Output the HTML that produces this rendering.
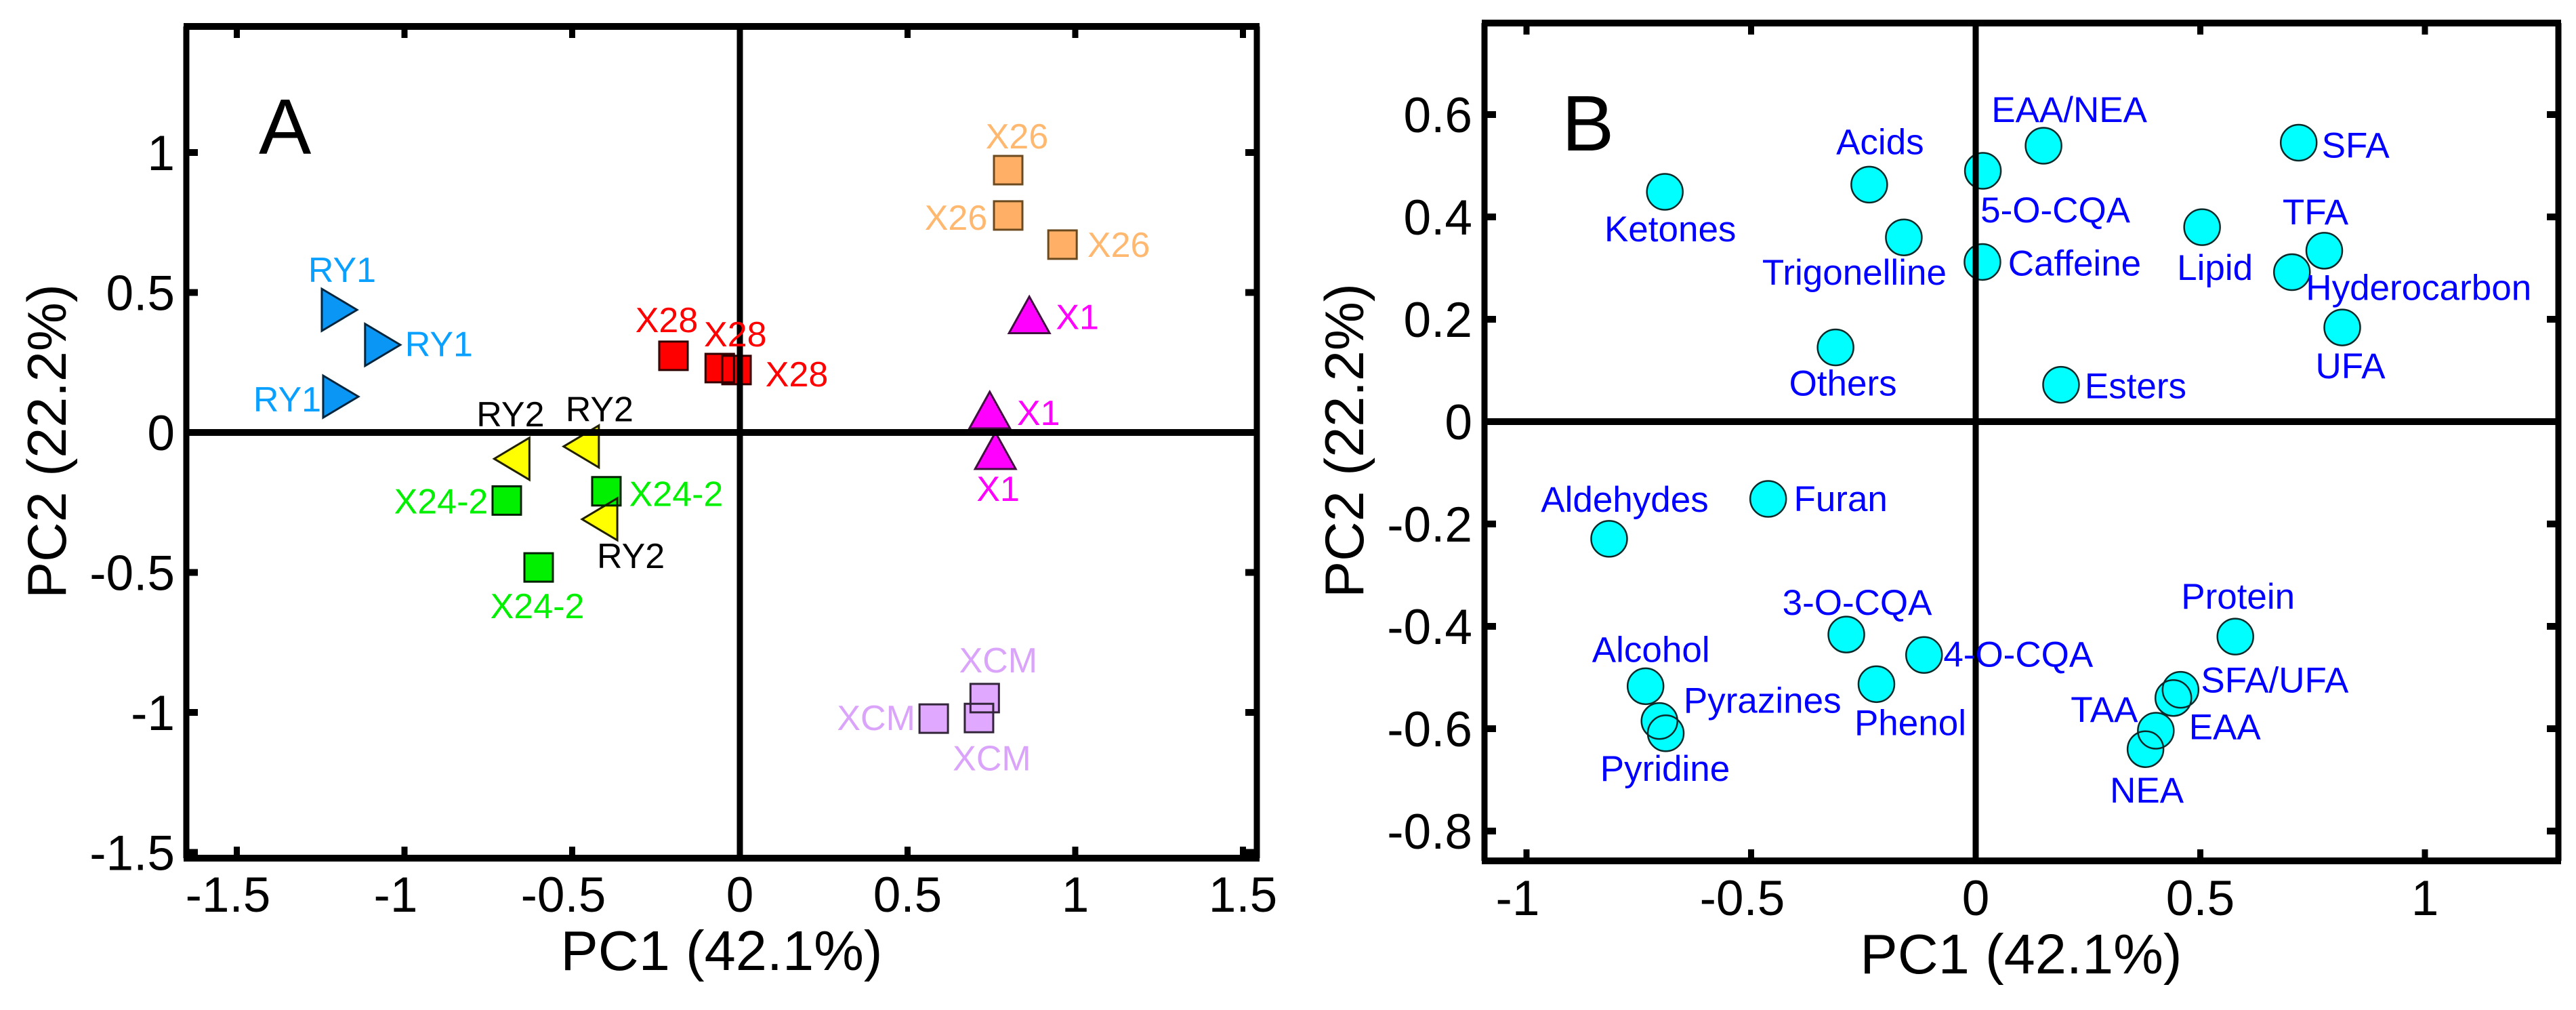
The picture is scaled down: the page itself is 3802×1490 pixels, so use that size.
<!DOCTYPE html>
<html lang="en">
<head>
<meta charset="utf-8">
<title>PCA score and loading plots</title>
<style>
html,body{margin:0;padding:0;background:#fff;width:3802px;height:1490px;overflow:hidden}
svg{display:block;font-family:"Liberation Sans",Arial,sans-serif}
</style>
</head>
<body>
<svg id="chart" xmlns="http://www.w3.org/2000/svg" width="3802" height="1490" viewBox="0 0 3802 1490"></svg>
<script>
// ---------- Panel A data (scores) ----------
const labelsA = ["X26","X26","X26","X28","X28","X28","X1","X1","X1","RY1","RY1","RY1","RY2","RY2","RY2","X24-2","X24-2","X24-2","XCM","XCM","XCM"];
const pc1A = [0.80,0.80,0.962,-0.198,-0.06,-0.01,0.863,0.745,0.762,-1.194,-1.065,-1.19,-0.68,-0.473,-0.418,-0.695,-0.398,-0.6,0.73,0.578,0.713];
const pc2A = [0.937,0.775,0.671,0.274,0.23,0.223,0.42,0.08,-0.065,0.438,0.313,0.128,-0.094,-0.05,-0.31,-0.243,-0.21,-0.482,-0.949,-1.022,-1.02];
const xTicksA = [-1.5,-1,-0.5,0,0.5,1,1.5];
const yTicksA = [-1.5,-1,-0.5,0,0.5,1];

// ---------- Panel B data (loadings) ----------
const labelsB = ["Ketones","Acids","5-O-CQA","EAA/NEA","SFA","Trigonelline","Lipid","TFA","Hyderocarbon","Caffeine","UFA","Others","Esters","Furan","Aldehydes","3-O-CQA","4-O-CQA","Phenol","Alcohol","Pyrazines","Pyridine","Protein","SFA/UFA","EAA","TAA","NEA"];
const pc1B = [-0.692,-0.237,0.016,0.151,0.719,-0.16,0.504,0.776,0.704,0.015,0.816,-0.312,0.19,-0.462,-0.816,-0.288,-0.115,-0.221,-0.735,-0.704,-0.69,0.578,0.456,0.44,0.401,0.378];
const pc2B = [0.449,0.463,0.49,0.539,0.545,0.36,0.38,0.334,0.292,0.312,0.184,0.145,0.072,-0.151,-0.229,-0.416,-0.456,-0.513,-0.517,-0.585,-0.609,-0.42,-0.524,-0.54,-0.604,-0.64];
const xTicksB = [-1,-0.5,0,0.5,1];
const yTicksB = [-0.8,-0.6,-0.4,-0.2,0,0.2,0.4,0.6];

// ---------- Label placement, relative to each point (layout, not data) ----------
const labelNudgeA = [[13,-51],[-77,2],[83,-1],[-10,-54],[23,-51],[89,5],[71,2],[72,3],[4,55],[4,-60],[83,-2],[-79,3],[-2,-67],[27,-56],[46,53],[-97,0],[103,3],[-2,56],[20,-57],[-85,-2],[19,58]];
const labelNudgeB = [[8,54],[16,-64],[107,57],[38,-54],[84,3],[-73,51],[19,59],[-13,-58],[187,22],[136,1],[12,56],[11,52],[110,1],[107,-1],[23,-59],[16,-48],[139,-2],[50,56],[8,-55],[152,-31],[-1,51],[4,-60],[139,-15],[76,42],[-76,-32],[2,60]];

// ---------- Group styling ----------
const groupStyle = {
  "X26":   {shape:"square", fill:"#ffb066", text:"#ffb870", stroke:"#6b4a20"},
  "X28":   {shape:"square", fill:"#ff0000", text:"#ff0000", stroke:"#300000"},
  "X1":    {shape:"up",     fill:"#ff00ff", text:"#ff00ff", stroke:"#401040"},
  "RY1":   {shape:"right",  fill:"#0a96f5", text:"#0aa0ff", stroke:"#05253d"},
  "RY2":   {shape:"left",   fill:"#ffff00", text:"#000000", stroke:"#202000"},
  "X24-2": {shape:"square", fill:"#00f000", text:"#00f000", stroke:"#002000"},
  "XCM":   {shape:"square", fill:"#e0a8ff", text:"#dba4fb", stroke:"#33263a"}
};

const NS = "http://www.w3.org/2000/svg";
const root = document.getElementById("chart");

function make(tag, parent, attrs) {
  const el = document.createElementNS(NS, tag);
  for (const k in attrs) el.setAttribute(k, attrs[k]);
  parent.appendChild(el);
  return el;
}
function linear(d0, d1, r0, r1) {
  return v => r0 + (v - d0) * (r1 - r0) / (d1 - d0);
}
function slug(s) {
  return s.toLowerCase().replace(/[^a-z0-9]+/g, "-").replace(/^-|-$/g, "");
}

function drawPanelFrame(g, box, sx, sy, xTicks, yTicks, cfg) {
  const ticks = make("g", g, {fill: "#000"});
  
  
  xTicks.forEach(t => {
    const x = sx(t);
    const top = make("rect", ticks, {x: x - 4.5, y: box.top, width: 9, height: 17});
    
    
    const bot = make("rect", ticks, {x: x - 4.5, y: box.bottom - 17, width: 9, height: 17});
    
    
    const lab = make("text", g, {
      x: x + (t < 0 ? -13 : 0), y: cfg.xLabelY, "text-anchor": "middle",
      "font-size": 73, fill: "#000"
    });
    
    
    lab.textContent = String(t);
  });
  yTicks.forEach(t => {
    const y = sy(t);
    const l = make("rect", ticks, {x: box.left, y: y - 5, width: 17, height: 10});
    
    
    const r = make("rect", ticks, {x: box.right - 17, y: y - 5, width: 17, height: 10});
    
    
    const lab = make("text", g, {
      x: cfg.yLabelX, y: y + 26, "text-anchor": "end",
      "font-size": 73, fill: "#000"
    });
    
    
    lab.textContent = String(t);
  });
}

function drawFrameLines(g, box, sx, sy) {
  const frame = make("g", g, {stroke: "#000", fill: "none"});
  
  
  make("line", frame, {x1: box.left, y1: box.top, x2: box.left, y2: box.bottom, "stroke-width": 9});
  make("line", frame, {x1: box.right, y1: box.top, x2: box.right, y2: box.bottom, "stroke-width": 9});
  make("line", frame, {x1: box.left - 4, y1: box.top, x2: box.right + 4, y2: box.top, "stroke-width": 10});
  make("line", frame, {x1: box.left - 4, y1: box.bottom, x2: box.right + 4, y2: box.bottom, "stroke-width": 10});
  const v = make("line", g, {x1: sx(0), y1: box.top, x2: sx(0), y2: box.bottom, stroke: "#000", "stroke-width": 9});
  
  
  const h = make("line", g, {x1: box.left, y1: sy(0), x2: box.right, y2: sy(0), stroke: "#000", "stroke-width": 10});
  
  
}

function drawTitles(g, cfg) {
  const xt = make("text", g, {x: cfg.xTitleX, y: cfg.xTitleY, "text-anchor": "middle", "font-size": 83, fill: "#000"});
  
  
  xt.textContent = "PC1 (42.1%)";
  const yt = make("text", g, {
    transform: "translate(" + cfg.yTitleX + "," + cfg.yTitleY + ") rotate(-90)",
    "text-anchor": "middle", "font-size": 81, fill: "#000"
  });
  
  
  yt.textContent = "PC2 (22.2%)";
  const letter = make("text", g, {x: cfg.letterX, y: cfg.letterY, "font-size": 116, fill: "#000"});
  
  
  letter.textContent = cfg.letter;
}

function markerPoints(shape, cx, cy) {
  if (shape === "right") return [[cx-26,cy-31],[cx+26,cy],[cx-26,cy+31]];
  if (shape === "left")  return [[cx+26,cy-31],[cx-26,cy],[cx+26,cy+31]];
  if (shape === "up")    return [[cx-30,cy+27],[cx,cy-27],[cx+30,cy+27]];
  return [[cx-21,cy-21],[cx+21,cy-21],[cx+21,cy+21],[cx-21,cy+21]];
}

// ---------- Panel A ----------
const boxA = {left: 275, right: 1855, top: 39, bottom: 1266};
const xA = linear(0, 1, 1092, 1587);
const yA = linear(0, 1, 638, 225);
const panelA = make("g", root, {});



const marksA = make("g", panelA, {});


labelsA.forEach((lab, i) => {
  const st = groupStyle[lab];
  const pts = markerPoints(st.shape, xA(pc1A[i]), yA(pc2A[i])).map(p => p.join(",")).join(" ");
  const m = make("polygon", marksA, {points: pts, fill: st.fill});
  
  
});
labelsA.forEach((lab, i) => {
  const st = groupStyle[lab];
  const pts = markerPoints(st.shape, xA(pc1A[i]), yA(pc2A[i])).map(p => p.join(",")).join(" ");
  const m = make("polygon", marksA, {points: pts, fill: "none", stroke: st.stroke, "stroke-width": 3});
  
  
});

drawFrameLines(panelA, boxA, xA, yA);
drawPanelFrame(panelA, boxA, xA, yA, xTicksA, yTicksA, {xLabelY: 1345, yLabelX: 258});
drawTitles(panelA, {xTitleX: 1065, xTitleY: 1431, yTitleX: 97, yTitleY: 651, letter: "A", letterX: 382, letterY: 227});

labelsA.forEach((lab, i) => {
  const t = make("text", panelA, {
    x: xA(pc1A[i]) + labelNudgeA[i][0], y: yA(pc2A[i]) + labelNudgeA[i][1] + 19,
    "text-anchor": "middle", "font-size": 52, fill: groupStyle[lab].text
  });
  
  
  t.textContent = lab;
});

// ---------- Panel B ----------
const boxB = {left: 2191, right: 3776, top: 34, bottom: 1270};
const xB = linear(0, 1, 2916, 3579);
const yB = linear(0, 0.6, 622, 169);
const panelB = make("g", root, {});



const marksB = make("g", panelB, {});


labelsB.forEach((lab, i) => {
  const c = make("ellipse", marksB, {cx: xB(pc1B[i]), cy: yB(pc2B[i]), rx: 26.5, ry: 26.5, fill: "#00ffff"});
  
  
});
labelsB.forEach((lab, i) => {
  const c = make("ellipse", marksB, {cx: xB(pc1B[i]), cy: yB(pc2B[i]), rx: 26.5, ry: 26.5, fill: "none", stroke: "#0a2a2a", "stroke-width": 2.5});
  
  
});

drawFrameLines(panelB, boxB, xB, yB);
drawPanelFrame(panelB, boxB, xB, yB, xTicksB, yTicksB, {xLabelY: 1350, yLabelX: 2173});
drawTitles(panelB, {xTitleX: 2983, xTitleY: 1436, yTitleX: 2012, yTitleY: 650, letter: "B", letterX: 2305, letterY: 222});

labelsB.forEach((lab, i) => {
  const t = make("text", panelB, {
    x: xB(pc1B[i]) + labelNudgeB[i][0], y: yB(pc2B[i]) + labelNudgeB[i][1] + 19,
    "text-anchor": "middle", "font-size": 53, fill: "#0000ff"
  });
  
  
  t.textContent = lab;
});
</script>
</body>
</html>
